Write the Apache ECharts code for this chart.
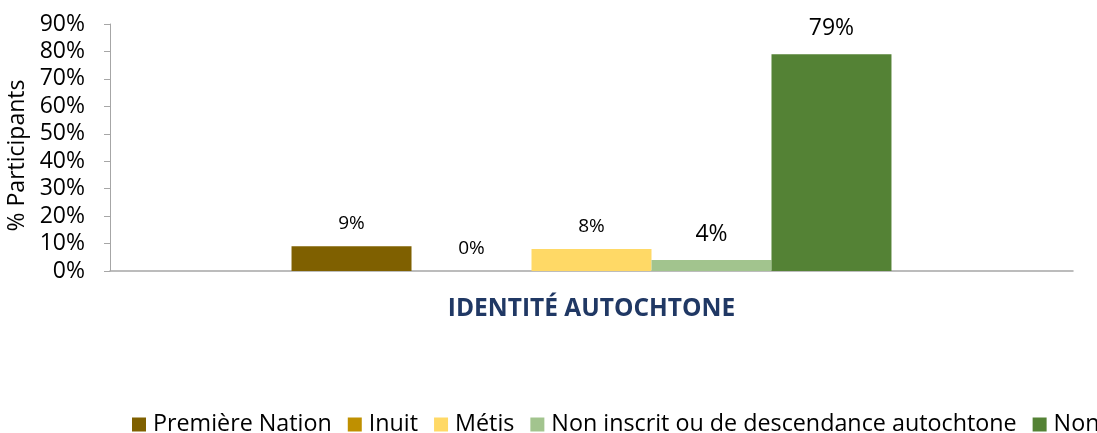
<!DOCTYPE html>
<html>
<head>
<meta charset="utf-8">
<script src="https://cdn.jsdelivr.net/npm/echarts@6/dist/echarts.min.js"></script>
<style>
html,body{margin:0;padding:0;background:#fff;}
#chart{width:1097px;height:433px;}
</style>
</head>
<body>
<div id="chart"></div>
<script>
const categories = ["IDENTITÉ AUTOCHTONE"];
const seriesNames = ["Première Nation", "Inuit", "Métis", "Non inscrit ou de descendance autochtone", "Non"];
const seriesValues = [9, 0, 8, 4, 79];
const seriesColors = ["#7F6000", "#BF9000", "#FFD966", "#A2C48E", "#548235"];
const labelSizes = [19, 19, 19, 23, 23];
const labelDistances = [13, 13, 13, 14, 14];
const yTicks = [0, 10, 20, 30, 40, 50, 60, 70, 80, 90];

const FONT = "'Open Sans', sans-serif";
const chart = echarts.init(document.getElementById('chart'), null, {renderer: 'canvas'});
const series = seriesNames.map((n, i) => ({
  name: n,
  type: 'bar',
  data: [seriesValues[i]],
  barGap: '0%',
  barCategoryGap: '37.7%',
  itemStyle: {color: seriesColors[i]},
  label: {
    show: true,
    position: 'top',
    distance: labelDistances[i],
    formatter: '{c}%',
    fontFamily: FONT,
    fontSize: labelSizes[i],
    color: '#000'
  }
}));
chart.setOption({
  animation: false,
  textStyle: {fontFamily: FONT},
  grid: {left: 110, right: 24, top: 24, bottom: 162, containLabel: false, outerBoundsMode: 'none'},
  legend: {
    data: seriesNames,
    left: 132,
    top: 413,
    width: 2000,
    padding: 0,
    itemWidth: 14,
    itemHeight: 14,
    itemGap: 16,
    icon: 'rect',
    textStyle: {fontFamily: FONT, fontSize: 23.3, color: '#000', padding: [0, 0, 0, 2]}
  },
  xAxis: {
    type: 'category',
    data: categories,
    name: categories[0],
    nameLocation: 'middle',
    nameGap: 26,
    nameTextStyle: {fontFamily: FONT, fontSize: 24.5, fontWeight: 'bold', color: '#203864'},
    axisLabel: {show: false},
    axisTick: {show: false},
    axisLine: {lineStyle: {color: '#A6A6A6', width: 1.5}}
  },
  yAxis: {
    type: 'value',
    min: yTicks[0],
    max: yTicks[yTicks.length - 1],
    interval: 10,
    name: '% Participants',
    nameLocation: 'middle',
    nameGap: 78,
    nameRotate: 90,
    nameTextStyle: {fontFamily: FONT, fontSize: 23, color: '#000', padding: [0, 16, 0, 0]},
    splitLine: {show: false},
    axisLine: {show: true, lineStyle: {color: '#A6A6A6', width: 1}},
    axisTick: {show: true, length: 6, lineStyle: {color: '#A6A6A6'}},
    axisLabel: {formatter: '{value}%', fontFamily: FONT, fontSize: 23, color: '#000', margin: 25}
  },
  series: series
});
</script>
</body>
</html>
